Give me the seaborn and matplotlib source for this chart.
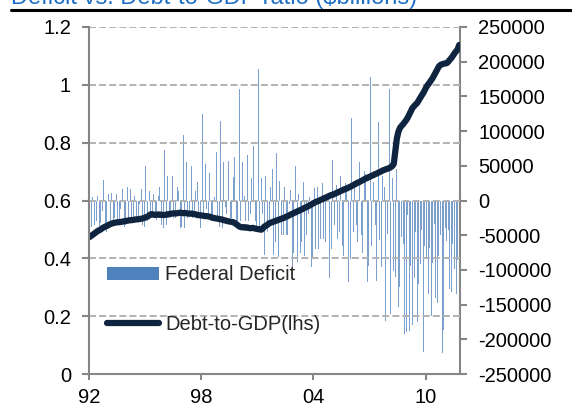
import numpy as np
import pandas as pd
import matplotlib
matplotlib.use("Agg")
import matplotlib.pyplot as plt
from matplotlib.lines import Line2D
from matplotlib.patches import Patch
import seaborn as sns

# Monthly federal surplus (+) / deficit (-), $ millions, April 1992 .. January 2012
def_1992 = [8000, -38000, 5000, -35000, -30000, 6000, -37000, -33000, -15000, 30000, -40000, -45000]
def_1993 = [9000, -38000, 11000, -33000, -25000, 10000, -35000, -30000, -12000, 16000, -38000, -35000]
def_1994 = [19000, -33000, 16000, -28000, -25000, 6000, -25000, -30000, -5000, 16000, -35000, -38000]
def_1995 = [50000, -30000, 13000, -22000, -20000, 9000, -22000, -28000, 7000, 20000, -35000, -40000]
def_1996 = [73000, -35000, 35000, -20000, -20000, 36000, -25000, -25000, 19000, 13000, -40000, -38000]
def_1997 = [95000, -40000, 55000, -25000, -22000, 50000, -25000, -20000, 14000, 26000, -22000, -40000]
def_1998 = [125000, -25000, 52000, -12000, -25000, 39000, -30000, -22000, 5000, 70000, -30000, -38000]
def_1999 = [114000, -40000, 55000, -10000, -20000, 57000, -25000, -25000, 34000, 63000, -35000, -30000]
def_2000 = [160000, -30000, 56000, 6000, -30000, 66000, -30000, -20000, 33000, 78000, -30000, -40000]
def_2001 = [190000, -40000, 33000, -20000, -78000, 36000, -45000, -30000, 20000, 45000, -78000, -60000]
def_2002 = [68000, -82000, 28000, -50000, -50000, 20000, -50000, -50000, -5000, 15000, -95000, -75000]
def_2003 = [49000, -89000, 10000, -75000, -60000, 27000, -80000, -50000, -20000, 5000, -96000, -85000]
def_2004 = [18000, -70000, 20000, -70000, -55000, 25000, -55000, -60000, 5000, 5000, -112000, -70000]
def_2005 = [59000, -35000, 23000, -55000, -45000, 36000, -65000, -80000, 25000, 20000, -118000, -85000]
def_2006 = [119000, -45000, 20000, -35000, -60000, 56000, -50000, -75000, 42000, 38000, -118000, -95000]
def_2007 = [178000, -65000, 27000, -35000, -116000, 113000, -57000, -96000, 35000, 19000, -174000, -48000]
def_2008 = [160000, -164000, 33000, -102000, -110000, 46000, -154000, -125000, -52000, -63000, -192000, -189000]
def_2009 = [-21000, -188000, -94000, -179000, -111000, -46000, -175000, -120000, -92000, -43000, -218000, -65000]
def_2010 = [-83000, -135000, -68000, -167000, -90000, -34000, -140000, -147000, -80000, -50000, -220000, -187000]
def_2011 = [-40000, -58000, -43000, -128000, -132000, -63000, -98000, -135000, -86000, -27000]

# Debt-to-GDP ratio, same months
debt_1992 = [0.474, 0.478, 0.482, 0.486, 0.490, 0.494, 0.497, 0.500, 0.504, 0.507, 0.510, 0.512]
debt_1993 = [0.515, 0.518, 0.520, 0.522, 0.523, 0.524, 0.525, 0.525, 0.526, 0.527, 0.528, 0.529]
debt_1994 = [0.530, 0.531, 0.532, 0.532, 0.533, 0.534, 0.535, 0.535, 0.536, 0.537, 0.538, 0.540]
debt_1995 = [0.542, 0.544, 0.548, 0.552, 0.553, 0.551, 0.550, 0.551, 0.552, 0.550, 0.551, 0.550]
debt_1996 = [0.550, 0.551, 0.553, 0.552, 0.554, 0.555, 0.556, 0.555, 0.556, 0.557, 0.558, 0.557]
debt_1997 = [0.556, 0.557, 0.556, 0.555, 0.554, 0.555, 0.554, 0.553, 0.552, 0.550, 0.549, 0.549]
debt_1998 = [0.548, 0.547, 0.546, 0.546, 0.545, 0.544, 0.542, 0.540, 0.539, 0.538, 0.537, 0.536]
debt_1999 = [0.535, 0.534, 0.532, 0.531, 0.529, 0.528, 0.527, 0.526, 0.525, 0.522, 0.518, 0.514]
debt_2000 = [0.510, 0.508, 0.507, 0.508, 0.506, 0.507, 0.505, 0.504, 0.505, 0.505, 0.503, 0.502]
debt_2001 = [0.501, 0.500, 0.499, 0.503, 0.510, 0.513, 0.516, 0.521, 0.523, 0.525, 0.527, 0.529]
debt_2002 = [0.531, 0.533, 0.535, 0.537, 0.539, 0.541, 0.544, 0.546, 0.549, 0.552, 0.554, 0.557]
debt_2003 = [0.559, 0.562, 0.564, 0.567, 0.569, 0.572, 0.575, 0.577, 0.580, 0.583, 0.586, 0.589]
debt_2004 = [0.592, 0.595, 0.597, 0.599, 0.602, 0.604, 0.607, 0.609, 0.612, 0.614, 0.617, 0.619]
debt_2005 = [0.620, 0.623, 0.625, 0.628, 0.630, 0.633, 0.635, 0.638, 0.640, 0.642, 0.645, 0.647]
debt_2006 = [0.650, 0.653, 0.656, 0.659, 0.662, 0.664, 0.667, 0.670, 0.673, 0.676, 0.678, 0.681]
debt_2007 = [0.683, 0.686, 0.688, 0.691, 0.693, 0.696, 0.698, 0.701, 0.704, 0.706, 0.708, 0.710]
debt_2008 = [0.712, 0.715, 0.719, 0.726, 0.770, 0.815, 0.838, 0.851, 0.858, 0.864, 0.871, 0.878]
debt_2009 = [0.887, 0.898, 0.909, 0.920, 0.926, 0.932, 0.937, 0.946, 0.955, 0.964, 0.972, 0.983]
debt_2010 = [0.993, 1.001, 1.008, 1.016, 1.024, 1.034, 1.044, 1.054, 1.064, 1.069, 1.071, 1.073]
debt_2011 = [1.074, 1.075, 1.080, 1.087, 1.093, 1.101, 1.109, 1.116, 1.123, 1.138]

deficit = (def_1992 + def_1993 + def_1994 + def_1995 + def_1996 + def_1997 + def_1998
           + def_1999 + def_2000 + def_2001 + def_2002 + def_2003 + def_2004 + def_2005
           + def_2006 + def_2007 + def_2008 + def_2009 + def_2010 + def_2011)
debt_ratio = (debt_1992 + debt_1993 + debt_1994 + debt_1995 + debt_1996 + debt_1997
              + debt_1998 + debt_1999 + debt_2000 + debt_2001 + debt_2002 + debt_2003
              + debt_2004 + debt_2005 + debt_2006 + debt_2007 + debt_2008 + debt_2009
              + debt_2010 + debt_2011)

months = pd.period_range("1992-04", periods=len(deficit), freq="M")
tick_years = [1992, 1998, 2004, 2010]
x_tick_labels = ["92", "98", "04", "10"]
left_ticks = [0, 0.2, 0.4, 0.6, 0.8, 1.0, 1.2]
left_labels = ["0", "0.2", "0.4", "0.6", "0.8", "1", "1.2"]
right_ticks = list(range(-250000, 250001, 50000))
right_labels = [str(v) for v in right_ticks]

title = "Deficit vs. Debt-to-GDP ratio ($billions)"
series_names = ["Federal Deficit", "Debt-to-GDP(lhs)"]

BAR = "#4F81BD"
LINE = "#0F243E"
AXIS = "#868686"
GRID = "#B2B2B2"

df = pd.DataFrame({"pos": np.arange(len(months)), "deficit": deficit, "debt": debt_ratio})

sns.set_theme(style="white")
plt.rcParams["font.family"] = ["Liberation Sans", "DejaVu Sans"]
plt.rcParams["axes.unicode_minus"] = False

W, H = 572, 413
fig = plt.figure(figsize=(W / 100, H / 100), dpi=100)
ax = fig.add_axes([89 / W, 1 - 374 / H, (460 - 89) / W, (374 - 27) / H])
ax2 = ax.twinx()

# deficit bars on the right-hand scale (thin, so they render as fine light strokes)
sns.barplot(data=df, x="pos", y="deficit", ax=ax2, color=BAR, saturation=1,
            width=0.65, linewidth=0, alpha=0.75, native_scale=True)
# debt ratio line on the left-hand scale, drawn above the bars
sns.lineplot(data=df, x="pos", y="debt", ax=ax, color=LINE, linewidth=4.5,
             legend=False, solid_joinstyle="round", solid_capstyle="round")
ax.set_zorder(ax2.get_zorder() + 1)
ax.patch.set_visible(False)

n = len(months)
ax.set_xlim(-0.5, n - 0.5)
ax2.set_xlim(-0.5, n - 0.5)
ax.set_ylim(0, 1.2)
ax2.set_ylim(-250000, 250000)

tick_pos = [i - 0.5 for i, m in enumerate(months) if m.month == 4 and m.year in tick_years]
ax.set_xticks(tick_pos)
ax.set_xticklabels(x_tick_labels)
ax.set_yticks(left_ticks)
ax.set_yticklabels(left_labels)
ax2.set_yticks(right_ticks)
ax2.set_yticklabels(right_labels)
ax.set_xlabel("")
ax.set_ylabel("")
ax2.set_xlabel("")
ax2.set_ylabel("")

for a in (ax, ax2):
    for s in a.spines.values():
        s.set_color(AXIS)
        s.set_linewidth(1.5)
    a.spines["top"].set_visible(False)
ax.spines["right"].set_visible(False)
ax2.spines["left"].set_visible(False)
ax2.spines["bottom"].set_visible(False)

ax.tick_params(axis="y", direction="out", length=5, width=1.5, color=AXIS,
               labelsize=14.5, labelcolor="black", pad=8, left=True)
ax.tick_params(axis="x", direction="out", length=4, width=1.5, color=AXIS,
               labelsize=14.5, labelcolor="black", pad=6, bottom=True)
ax2.tick_params(axis="y", direction="out", length=5, width=1.5, color=AXIS,
                labelsize=14.5, labelcolor="black", pad=8, right=True)
ax2.tick_params(axis="x", bottom=False, labelbottom=False)

for v in left_ticks[1:]:
    ax.axhline(v, color=GRID, linewidth=1.4, dashes=(3.6, 1.6), zorder=0)

handles = [Patch(facecolor=BAR, edgecolor="none"),
           Line2D([0], [0], color=LINE, linewidth=4.5, solid_capstyle="round")]
ax.legend(handles, series_names, loc="center left",
          bbox_to_anchor=(107 / W, 1 - 299.5 / H), bbox_transform=fig.transFigure,
          frameon=False, borderpad=0, borderaxespad=0, fontsize=14.5,
          handlelength=2.6, handleheight=0.6, handletextpad=0.3, labelspacing=1.5)

fig.text(11 / W, 1 - 4 / H, title, color="#1F6FC5", fontsize=17,
         ha="left", va="baseline")
fig.add_artist(Line2D([11 / W, 1.0], [1 - 9.5 / H] * 2, transform=fig.transFigure,
                      color="black", linewidth=2.2))

fig.savefig("out.png", dpi=100)
